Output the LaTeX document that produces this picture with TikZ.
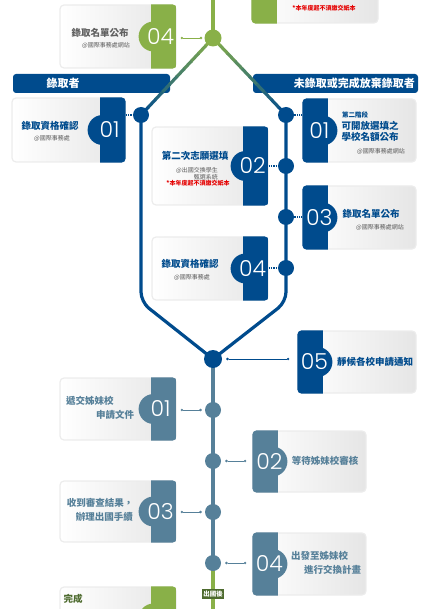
\documentclass[tikz,border=0pt]{standalone}
\usepackage{fontspec}
\setmainfont{Noto Sans CJK TC}
\newfontfamily\numfont{Poppins}[UprightFont=* Light]
\usepackage{tikz}
\usetikzlibrary{calc,fit,backgrounds,arrows.meta}
\usepackage{xcolor}

\definecolor{admblue}{HTML}{004B8D}
\definecolor{leafgrn}{HTML}{89B048}
\definecolor{exsteel}{HTML}{568099}
\definecolor{mossgrn}{HTML}{4E6B2F}

% card with the coloured tab on the right
\newcommand{\cardR}[5]{%
  \node[card, fit={#2 #3}] (#1) {};
  \begin{scope}
    \clip[rounded corners=4pt] (#1.south west) rectangle (#1.north east);
    \fill[#4] ([xshift=-26pt]#1.north east) rectangle (#1.south east);
    \fill[#4] ([xshift=-23pt]#1.east) circle (15pt);
  \end{scope}
  \node[numtxt] (#1-num) at ([xshift=-16pt]#1.east) {#5};
}
% card with the coloured tab on the left
\newcommand{\cardL}[5]{%
  \node[card, fit={#2 #3}] (#1) {};
  \begin{scope}
    \clip[rounded corners=4pt] (#1.south west) rectangle (#1.north east);
    \fill[#4] (#1.north west) rectangle ([xshift=26pt]#1.south west);
    \fill[#4] ([xshift=20pt]#1.west) circle (15pt);
  \end{scope}
  \node[numtxt] (#1-num) at ([xshift=17pt]#1.west) {#5};
}

\begin{document}
\begin{tikzpicture}[
    x=1pt, y=-1pt,
    card/.style={draw=gray!15, line width=1.2pt, rounded corners=4pt, left color=white, right color=gray!20, inner sep=0pt},
    numtxt/.style={font=\numfont\fontsize{22}{22}\selectfont, text=white, inner sep=0pt},
    ttl/.style={font=\bfseries\fontsize{9.5}{11}\selectfont, text=admblue, align=center, inner sep=0pt},
    exttl/.style={font=\bfseries\fontsize{9.5}{13.5}\selectfont, text=exsteel, inner sep=0pt},
    sub/.style={font=\fontsize{6}{7}\selectfont, text=gray!70!black, inner sep=0pt},
    warn/.style={font=\bfseries\fontsize{6}{7}\selectfont, text=red!90!black, inner sep=0pt},
    banner/.style={fill=admblue, rounded corners=3pt, minimum height=19pt, inner sep=0pt},
    bantxt/.style={font=\bfseries\fontsize{11}{12}\selectfont, text=white, inner sep=0pt},
    junction/.style={circle, fill=#1, minimum size=16pt, inner sep=0pt},
    trunk/.style={line width=3.2pt, draw=#1},
    feeder/.style={thin, draw=#1, {Circle[length=2.5pt]}-{Circle[length=2.5pt]}},
    stub/.style={densely dotted, line width=1.3pt, draw=admblue}
]
\useasboundingbox (0,0) rectangle (433,609);
\clip (0,0) rectangle (433,609);

% junctions on the time line
\node[junction=leafgrn, minimum size=17pt] (split) at (213,38) {};
\node[junction=admblue] (adm1) at (141,115) {};
\node[junction=admblue] (alt1) at (286,115) {};
\node[junction=admblue] (alt2) at (286,166) {};
\node[junction=admblue] (alt3) at (286,217) {};
\node[junction=admblue] (alt4) at (286,268) {};
\node[junction=admblue, minimum size=18pt] (merge) at (213,359) {};
\node[junction=exsteel] (ex1) at (213,410) {};
\node[junction=exsteel] (ex2) at (213,461) {};
\node[junction=exsteel] (ex3) at (213,512) {};
\node[junction=exsteel] (ex4) at (213,563) {};
\coordinate (topend) at (213,0);
\coordinate (botend) at (213,609);

% banners and lines
\begin{scope}[on background layer]
  \node[banner, minimum width=157pt] (banL) at (91.5,83.5) {};
  \node[banner, minimum width=165pt] (banR) at (335.5,83.5) {};
  \draw[trunk=leafgrn] (topend) -- (split.center);
  \foreach \i in {0,...,9}{
    \pgfmathtruncatemacro\mix{\i*10+5}
    \draw[trunk=admblue!\mix!leafgrn] ($(split)!\i/10!(adm1)$) -- ($(split)!{(\i+1.05)/10}!(adm1)$);
    \draw[trunk=admblue!\mix!leafgrn] ($(split)!\i/10!(alt1)$) -- ($(split)!{(\i+1.05)/10}!(alt1)$);
  }
  \draw[trunk=admblue, rounded corners=10pt] (adm1.center) -- (141,302) -- (merge.center);
  \draw[trunk=admblue, rounded corners=10pt] (alt1.center) -- (286,302) -- (merge.center);
  \draw[trunk=exsteel] (merge.center) -- (ex4.center);
  \draw[trunk=leafgrn] (ex4.center) -- (botend);
\end{scope}
\node[bantxt] (banL-t) at (63,83.5) {錄取者};
\node[bantxt, anchor=east] (banR-t) at (415,83.5) {未錄取或完成放棄錄取者};

% cards
\cardR{pub4}{(60,5)}{(176,68)}{leafgrn}{04}
\cardL{pubtop}{(252,-60)}{(378,23)}{leafgrn}{}
\cardR{admc}{(12,98)}{(125,162)}{admblue}{01}
\cardL{altc1}{(303,99)}{(416,162)}{admblue}{01}
\cardR{altc2}{(152,127)}{(268,205)}{admblue}{02}
\cardL{altc3}{(303,186)}{(416,249)}{admblue}{03}
\cardR{altc4}{(152,237)}{(268,300)}{admblue}{04}
\cardL{wait5}{(298,331)}{(416,393)}{admblue}{05}
\cardR{exc1}{(60,378)}{(176,440)}{exsteel}{01}
\cardL{exc2}{(253,431)}{(366,492)}{exsteel}{02}
\cardR{exc3}{(60,481)}{(176,542)}{exsteel}{03}
\cardL{exc4}{(253,533)}{(366,595)}{exsteel}{04}
\cardR{done}{(60,587)}{(176,650)}{leafgrn}{}

% card texts
\node[ttl, text=gray!75!black] (pub4-t) at (100,33) {錄取名單公布};
\node[sub] (pub4-s) at (106,46) {@國際事務處網站};
\node[warn] (pubtop-w) at (324,8) {*本年度起不須繳交紙本};
\node[ttl] (admc-t) at (50,126) {錄取資格確認};
\node[sub] (admc-s) at (52,138) {@國際事務處};
\node[ttl, font=\bfseries\fontsize{6.5}{7}\selectfont] (altc1-a) at (355,115) {第二階段};
\node[ttl] (altc1-t) at (370,131.5) {可開放選填之\\學校名額公布};
\node[sub] (altc1-s) at (381,151) {@國際事務處網站};
\node[ttl] (altc2-t) at (195,156) {第二次志願選填};
\node[sub, align=right] (altc2-s) at (197,173.5) {@出國交換學生\\甄選系統};
\node[warn] (altc2-w) at (198,183) {*本年度起不須繳交紙本};
\node[ttl] (altc3-t) at (371,214) {錄取名單公布};
\node[sub] (altc3-s) at (380,227) {@國際事務處網站};
\node[ttl] (altc4-t) at (190,264) {錄取資格確認};
\node[sub] (altc4-s) at (192,277) {@國際事務處};
\node[ttl] (wait5-t) at (375,362) {靜候各校申請通知};
\node[exttl, align=left] (exc1-t) at (100,408) {遞交姊妹校\\\hspace*{30pt}申請文件};
\node[exttl] (exc2-t) at (325,461) {等待姊妹校審核};
\node[exttl, align=left] (exc3-t) at (100,510) {收到審查結果，\\\hspace*{9pt}辦理出國手續};
\node[exttl, align=left] (exc4-t) at (326,563) {出發至姊妹校\\\hspace*{13pt}進行交換計畫};
\node[exttl, text=mossgrn] (done-t) at (73,599) {完成};

% connectors
\draw[feeder=leafgrn, shorten <=4pt, shorten >=2pt] (pub4.east |- split) -- (split);
\draw[stub] (admc.east |- adm1) -- (adm1);
\draw[stub] (altc1.west |- alt1) -- (alt1);
\draw[stub] (altc2.east |- alt2) -- (alt2);
\draw[stub] (altc3.west |- alt3) -- (alt3);
\draw[stub] (altc4.east |- alt4) -- (alt4);
\draw[feeder=admblue, shorten <=4pt, shorten >=8pt] (merge) -- (wait5.west |- merge);
\draw[feeder=exsteel, shorten <=4pt, shorten >=3pt] (exc1.east |- ex1) -- (ex1);
\draw[feeder=exsteel, shorten <=4pt, shorten >=6pt] (ex2) -- (exc2.west |- ex2);
\draw[feeder=exsteel, shorten <=4pt, shorten >=3pt] (exc3.east |- ex3) -- (ex3);
\draw[feeder=exsteel, shorten <=4pt, shorten >=6pt] (ex4) -- (exc4.west |- ex4);

% after departure
\node[fill=mossgrn, text=white, font=\bfseries\fontsize{6.5}{7}\selectfont, inner sep=1.5pt] (abroad) at (213,594) {出國後};

\end{tikzpicture}
\end{document}
